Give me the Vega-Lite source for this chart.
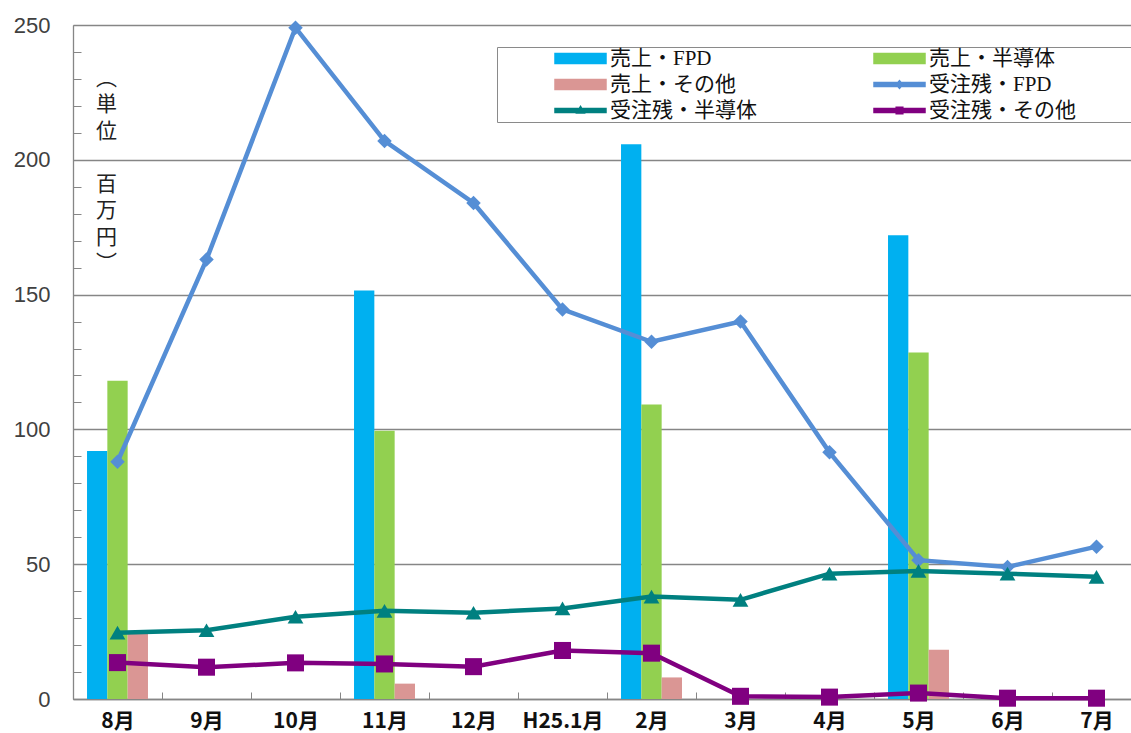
{
  "$schema": "https://vega.github.io/schema/vega-lite/v6.json",
  "width": 1058,
  "height": 674,
  "autosize": "none",
  "padding": {"left": 73, "top": 25, "right": 0, "bottom": 34},
  "background": "white",
  "config": {"view": {"stroke": null}, "font": "Noto Sans CJK JP"},
  "datasets": {
    "sales": [
      {"month": "8月", "series": "売上・FPD", "value": 92},
      {"month": "8月", "series": "売上・半導体", "value": 118},
      {"month": "8月", "series": "売上・その他", "value": 24.2},
      {"month": "11月", "series": "売上・FPD", "value": 151.5},
      {"month": "11月", "series": "売上・半導体", "value": 99.5},
      {"month": "11月", "series": "売上・その他", "value": 5.7},
      {"month": "2月", "series": "売上・FPD", "value": 205.8},
      {"month": "2月", "series": "売上・半導体", "value": 109.2},
      {"month": "2月", "series": "売上・その他", "value": 8},
      {"month": "5月", "series": "売上・FPD", "value": 172},
      {"month": "5月", "series": "売上・半導体", "value": 128.5},
      {"month": "5月", "series": "売上・その他", "value": 18.3}
    ],
    "backlog": [
      {"month": "8月", "series": "受注残・FPD", "value": 88},
      {"month": "9月", "series": "受注残・FPD", "value": 163},
      {"month": "10月", "series": "受注残・FPD", "value": 249},
      {"month": "11月", "series": "受注残・FPD", "value": 207},
      {"month": "12月", "series": "受注残・FPD", "value": 184},
      {"month": "H25.1月", "series": "受注残・FPD", "value": 144.5},
      {"month": "2月", "series": "受注残・FPD", "value": 132.5},
      {"month": "3月", "series": "受注残・FPD", "value": 140},
      {"month": "4月", "series": "受注残・FPD", "value": 91.5},
      {"month": "5月", "series": "受注残・FPD", "value": 51.5},
      {"month": "6月", "series": "受注残・FPD", "value": 49},
      {"month": "7月", "series": "受注残・FPD", "value": 56.5},
      {"month": "8月", "series": "受注残・半導体", "value": 24.6},
      {"month": "9月", "series": "受注残・半導体", "value": 25.5},
      {"month": "10月", "series": "受注残・半導体", "value": 30.5},
      {"month": "11月", "series": "受注残・半導体", "value": 32.7},
      {"month": "12月", "series": "受注残・半導体", "value": 32},
      {"month": "H25.1月", "series": "受注残・半導体", "value": 33.6},
      {"month": "2月", "series": "受注残・半導体", "value": 38},
      {"month": "3月", "series": "受注残・半導体", "value": 36.8},
      {"month": "4月", "series": "受注残・半導体", "value": 46.5},
      {"month": "5月", "series": "受注残・半導体", "value": 47.5},
      {"month": "6月", "series": "受注残・半導体", "value": 46.5},
      {"month": "7月", "series": "受注残・半導体", "value": 45.3},
      {"month": "8月", "series": "受注残・その他", "value": 13.5},
      {"month": "9月", "series": "受注残・その他", "value": 11.8},
      {"month": "10月", "series": "受注残・その他", "value": 13.4},
      {"month": "11月", "series": "受注残・その他", "value": 13},
      {"month": "12月", "series": "受注残・その他", "value": 12},
      {"month": "H25.1月", "series": "受注残・その他", "value": 18},
      {"month": "2月", "series": "受注残・その他", "value": 17},
      {"month": "3月", "series": "受注残・その他", "value": 1},
      {"month": "4月", "series": "受注残・その他", "value": 0.7},
      {"month": "5月", "series": "受注残・その他", "value": 2.2},
      {"month": "6月", "series": "受注残・その他", "value": 0.3},
      {"month": "7月", "series": "受注残・その他", "value": 0.3}
    ]
  },
  "layer": [
    {
      "data": {"name": "sales"},
      "mark": {"type": "bar"},
      "encoding": {
        "x": {
          "field": "month", "type": "nominal",
          "scale": {"domain": ["8月", "9月", "10月", "11月", "12月", "H25.1月", "2月", "3月", "4月", "5月", "6月", "7月"], "range": [0, 1068], "paddingInner": 0, "paddingOuter": 0},
          "axis": {
            "orient": "bottom", "title": null, "grid": false,
            "domain": true, "domainColor": "#868686", "domainWidth": 1.3,
            "ticks": true, "tickSize": -7, "tickColor": "#868686", "tickWidth": 1,
            "tickOffset": -44.5, "labelOffset": 44.5,
            "labelFont": "Noto Sans CJK JP", "labelFontWeight": "bold", "labelFontSize": 21,
            "labelColor": "#111111", "labelPadding": 18, "labelAngle": 0, "labelBaseline": "top"
          }
        },
        "xOffset": {"field": "series", "type": "nominal", "scale": {"domain": ["売上・FPD", "売上・半導体", "売上・その他"], "paddingInner": 0, "paddingOuter": 0.69}},
        "y": {
          "field": "value", "type": "quantitative",
          "scale": {"domain": [0, 250], "nice": false},
          "axis": {
            "orient": "left", "values": [0, 50, 100, 150, 200, 250],
            "grid": true, "gridColor": "#868686", "gridWidth": 1.3,
            "ticks": false, "domain": true, "domainColor": "#868686", "domainWidth": 1.3,
            "labelFont": "Liberation Sans", "labelFontSize": 22, "labelColor": "#404040", "labelPadding": 23,
            "title": ["︵", "単", "位", "\u2800", "百", "万", "円", "︶"],
            "titleAngle": 0, "titleX": 33, "titleY": 42, "titleAlign": "center", "titleBaseline": "top",
            "titleFont": "Noto Sans CJK JP", "titleFontSize": 21, "titleFontWeight": "normal",
            "titleLineHeight": 26.5, "titleColor": "#222222"
          }
        },
        "color": {
          "field": "series", "type": "nominal",
          "scale": {
            "domain": ["売上・FPD", "売上・半導体", "売上・その他", "受注残・FPD", "受注残・半導体", "受注残・その他"],
            "range": ["#00B0F0", "#92D050", "#DA9694", "#558ED5", "#008080", "#800080"]
          },
          "legend": {
            "orient": "none", "legendX": 424, "legendY": 22, "columns": 2, "direction": "horizontal", "title": null,
            "padding": 1, "fillColor": "white", "strokeColor": "#8a8a8a",
            "symbolSize": 2601, "symbolOffset": 56, "labelOffset": 3,
            "columnPadding": -5, "rowPadding": 4, "clipHeight": 21,
            "labelFont": "'Liberation Serif', 'Noto Sans CJK JP'", "labelFontSize": 21, "labelColor": "#111111",
            "labelLimit": 400, "labelExpr": "datum.label + '\u2800\u2800\u2800\u2800'",
            "encode": {
              "symbols": {
                "update": {
                  "shape": {"signal": "indexof(['売上・FPD','売上・半導体','売上・その他'], datum.value) >= 0 ? 'M-1,-0.2H1V0.2H-1Z' : datum.value === '受注残・FPD' ? 'M-1,-0.08H1V0.08H-1Z M0,-0.15L0.13,0L0,0.15L-0.13,0Z' : datum.value === '受注残・半導体' ? 'M-1,-0.08H1V0.08H-1Z M0,-0.16L0.15,0.1L-0.15,0.1Z' : 'M-1,-0.08H1V0.08H-1Z M-0.13,-0.13H0.13V0.13H-0.13Z'"},
                  "fill": {"scale": "color", "field": "value"},
                  "stroke": {"value": "transparent"},
                  "opacity": {"value": 1}
                }
              }
            }
          }
        }
      }
    },
    {
      "data": {"name": "backlog"},
      "mark": {"type": "line", "strokeWidth": 4.5},
      "encoding": {
        "x": {"field": "month", "type": "nominal"},
        "y": {
          "field": "value", "type": "quantitative",
          "axis": {
            "orient": "left", "values": [0, 10, 20, 30, 40, 50, 60, 70, 80, 90, 100, 110, 120, 130, 140, 150, 160, 170, 180, 190, 200, 210, 220, 230, 240, 250],
            "grid": false, "labels": false, "domain": false, "ticks": true, "tickSize": -8,
            "tickColor": "#868686", "tickWidth": 1, "title": null
          }
        },
        "color": {"field": "series", "type": "nominal"}
      }
    },
    {
      "data": {"name": "backlog"},
      "mark": {"type": "point", "filled": true, "opacity": 1},
      "encoding": {
        "x": {"field": "month", "type": "nominal"},
        "y": {"field": "value", "type": "quantitative", "axis": null},
        "color": {"field": "series", "type": "nominal"},
        "shape": {"field": "series", "type": "nominal", "scale": {"domain": ["受注残・FPD", "受注残・半導体", "受注残・その他"], "range": ["diamond", "triangle-up", "square"]}, "legend": null},
        "size": {"field": "series", "type": "nominal", "scale": {"domain": ["受注残・FPD", "受注残・半導体", "受注残・その他"], "range": [210, 290, 165]}, "legend": null}
      }
    }
  ],
  "resolve": {"axis": {"y": "independent"}}
}
